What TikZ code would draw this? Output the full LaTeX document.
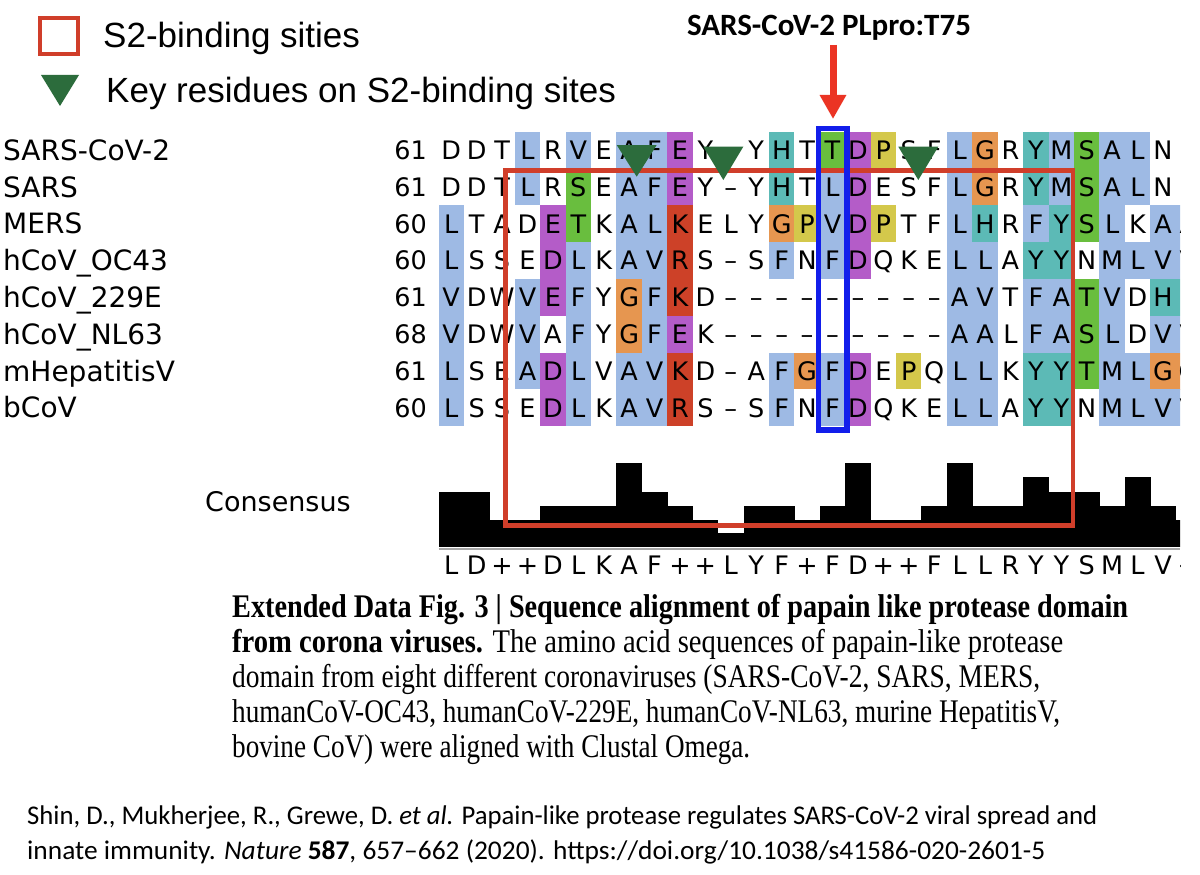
\documentclass[tikz,border=0pt]{standalone}
\usepackage{fontspec}
\usepackage{graphicx}
\setmainfont{Liberation Serif}
\newfontfamily\dvs{DejaVu Sans}
\newfontfamily\lib{Liberation Sans}
\newfontfamily\carl{Carlito}
\usetikzlibrary{arrows.meta}
\definecolor{shB}{RGB}{158,186,228}
\definecolor{shP}{RGB}{180,92,200}
\definecolor{shR}{RGB}{205,65,40}
\definecolor{shG}{RGB}{105,190,62}
\definecolor{shO}{RGB}{230,150,80}
\definecolor{shY}{RGB}{212,200,75}
\definecolor{shC}{RGB}{92,186,182}
\definecolor{shn}{RGB}{255,255,255}
\definecolor{boxred}{RGB}{208,62,42}
\definecolor{boxblue}{RGB}{18,30,235}
\definecolor{arrred}{RGB}{235,52,36}
\definecolor{trigreen}{RGB}{44,108,60}
\def\cw{25.42}
\def\xo{438.5}
\def\yo{131.7}
\def\rh{36.8}
\newcommand\seqrow[2]{%
  \foreach \ch/\cc [count=\c from 0] in {#2}{%
    \fill[sh\cc] ({\xo+\c*\cw},{\yo+#1*\rh}) rectangle ++({\cw+0.3},{\rh+0.3});
    \node[seqch] (s#1-\c) at ({\xo+(\c+0.5)*\cw},{\yo+(#1+0.5)*\rh+9.3}) {\ch};
  }}
\tikzset{
  seqch/.style={font={\dvs\fontsize{25.5pt}{25.5pt}\selectfont}, anchor=base, inner sep=0pt},
  numlab/.style={font={\dvs\fontsize{25.5pt}{25.5pt}\selectfont}, anchor=base east, inner sep=0pt},
  rowlab/.style={font={\dvs\fontsize{28pt}{28pt}\selectfont}, anchor=base west, inner sep=0pt},
  leglab/.style={font={\lib\fontsize{35pt}{35pt}\selectfont}, anchor=base west, inner sep=0pt},
  capline/.style={font={\fontsize{33pt}{33pt}\selectfont}, anchor=base west, inner sep=0pt},
  citeline/.style={font={\carl\fontsize{27pt}{27pt}\selectfont}, anchor=base west, inner sep=0pt},
  tri/.style={fill=trigreen},
}
\begin{document}
\begin{tikzpicture}[x=1pt,y=-1pt]
\useasboundingbox[fill=white] (0,0) rectangle (1200,875);

% legend
\draw[boxred, line width=4pt] (40,18) rectangle (78,54);
\node[leglab] (leg1) at (103,47.5) {S2-binding sities};
\fill[tri] (41,75) -- (79,75) -- (60,106) -- cycle;
\node[leglab] (leg2) at (106,102.5) {Key residues on S2-binding sites};

% title and arrow
\node[font={\carl\bfseries\fontsize{31pt}{31pt}\selectfont}, anchor=base, inner sep=0pt] (title) at (829,36) {SARS-CoV-2 PLpro:T75};
\coordinate (arrS) at (833,45);
\coordinate (arrE) at (833,119);
\draw[arrred, line width=7pt, -{Triangle[width=25pt,length=24pt]}] (arrS) -- (arrE);

% row labels
\node[rowlab] (n0) at (3,160.3) {SARS-CoV-2};
\node[rowlab] (n1) at (3,197.1) {SARS};
\node[rowlab] (n2) at (3,233.9) {MERS};
\node[rowlab] (n3) at (3,270.7) {hCoV\_OC43};
\node[rowlab] (n4) at (3,307.5) {hCoV\_229E};
\node[rowlab] (n5) at (3,344.3) {hCoV\_NL63};
\node[rowlab] (n6) at (3,381.1) {mHepatitisV};
\node[rowlab] (n7) at (3,417.9) {bCoV};

\node[numlab] (p0) at (427,159.4) {61};
\node[numlab] (p1) at (427,196.2) {61};
\node[numlab] (p2) at (427,233.0) {60};
\node[numlab] (p3) at (427,269.8) {60};
\node[numlab] (p4) at (427,306.6) {61};
\node[numlab] (p5) at (427,343.4) {68};
\node[numlab] (p6) at (427,380.2) {61};
\node[numlab] (p7) at (427,417.0) {60};

\begin{scope}
\clip (0,110) rectangle (1180,600);
\seqrow{0}{D/n,D/n,T/n,L/B,R/n,V/B,E/n,A/B,F/B,E/P,Y/n,–/n,Y/n,H/C,T/n,T/G,D/P,P/Y,S/n,F/n,L/B,G/O,R/n,Y/C,M/B,S/G,A/B,L/B,N/n,N/n}
\seqrow{1}{D/n,D/n,T/n,L/B,R/n,S/G,E/n,A/B,F/B,E/P,Y/n,–/n,Y/n,H/C,T/n,L/B,D/P,E/n,S/n,F/n,L/B,G/O,R/n,Y/C,M/B,S/G,A/B,L/B,N/n,H/n}
\seqrow{2}{L/B,T/n,A/n,D/n,E/P,T/G,K/n,A/B,L/B,K/R,E/n,L/n,Y/n,G/O,P/Y,V/B,D/P,P/Y,T/n,F/n,L/B,H/C,R/n,F/B,Y/C,S/G,L/B,K/n,A/B,A/B}
\seqrow{3}{L/B,S/n,S/n,E/n,D/P,L/B,K/n,A/B,V/B,R/R,S/n,–/n,S/n,F/B,N/n,F/B,D/P,Q/n,K/n,E/n,L/B,L/B,A/n,Y/C,Y/C,N/n,M/B,L/B,V/B,V/B}
\seqrow{4}{V/B,D/n,W/n,V/B,E/P,F/B,Y/n,G/O,F/B,K/R,D/n,–/n,–/n,–/n,–/n,–/n,–/n,–/n,–/n,–/n,A/B,V/B,T/n,F/B,A/B,T/G,V/B,D/n,H/C,H/C}
\seqrow{5}{V/B,D/n,W/n,V/B,A/n,F/B,Y/n,G/O,F/B,E/P,K/n,–/n,–/n,–/n,–/n,–/n,–/n,–/n,–/n,–/n,A/B,A/B,L/n,F/B,A/B,S/G,L/B,D/n,V/B,V/B}
\seqrow{6}{L/B,S/n,E/n,A/B,D/P,L/B,V/n,A/B,V/B,K/R,D/n,–/n,A/n,F/B,G/O,F/B,D/P,E/n,P/Y,Q/n,L/B,L/B,K/n,Y/C,Y/C,T/G,M/B,L/B,G/O,G/O}
\seqrow{7}{L/B,S/n,S/n,E/n,D/P,L/B,K/n,A/B,V/B,R/R,S/n,–/n,S/n,F/B,N/n,F/B,D/P,Q/n,K/n,E/n,L/B,L/B,A/n,Y/C,Y/C,N/n,M/B,L/B,V/B,V/B}

% consensus bars
\foreach \t [count=\c from 0] in {491.7,491.7,520,520,505.7,505.7,505.7,463.3,491.7,505.7,520,533.3,505.7,505.7,520,505.7,463.3,520,520,505.7,463.3,505.7,505.7,477.3,491.7,491.7,505.7,477.3,505.7,520}{%
  \fill[black] ({\xo+\c*\cw},\t) rectangle ({\xo+(\c+1)*\cw+0.3},546.7);
}
\draw[gray!70, line width=2pt] (\xo,548.5) -- (1180,548.5);
\foreach \ch [count=\c from 0] in {L,D,+,+,D,L,K,A,F,+,+,L,Y,F,+,F,D,+,+,F,L,L,R,Y,Y,S,M,L,V,+}{%
  \node[seqch] (c\c) at ({\xo+(\c+0.5)*\cw},574) {\ch};
}

% boxes
\draw[boxred, line width=4.5pt] (505.5,170.5) rectangle (1073,525.5);
\draw[boxblue, line width=5.5pt] (818.5,128.5) rectangle (847,430);
\end{scope}

% key residue triangles
\fill[tri] (616.7,145) -- (656.7,145) -- (636.7,176.7) -- cycle;
\fill[tri] (703.3,146.7) -- (743.3,146.7) -- (723.3,180) -- cycle;
\fill[tri] (898.3,146.7) -- (938.3,146.7) -- (918.3,180) -- cycle;

% consensus label
\node[font={\dvs\fontsize{27pt}{27pt}\selectfont}, anchor=base west, inner sep=0pt] (cons) at (205,511.5) {Consensus};

% caption
\node[capline] (cap1) at (232,617) {\resizebox{896pt}{\height}{\bfseries Extended Data Fig. 3 | Sequence alignment of papain like protease domain}};
\node[capline] (cap2) at (232,652) {\resizebox{831pt}{\height}{\textbf{from corona viruses.} The amino acid sequences of papain-like protease}};
\node[capline] (cap3) at (232,687) {\resizebox{808pt}{\height}{domain from eight different coronaviruses (SARS-CoV-2, SARS, MERS,}};
\node[capline] (cap4) at (232,722) {\resizebox{828pt}{\height}{humanCoV-OC43, humanCoV-229E, humanCoV-NL63, murine HepatitisV,}};
\node[capline] (cap5) at (232,757) {\resizebox{518pt}{\height}{bovine CoV) were aligned with Clustal Omega.}};

% citation
\node[citeline] (cit1) at (27,824) {\resizebox{1070pt}{\height}{Shin, D., Mukherjee, R., Grewe, D. \textit{et al.} Papain-like protease regulates SARS-CoV-2 viral spread and}};
\node[citeline] (cit2) at (27,859) {\resizebox{1018pt}{\height}{innate immunity. \textit{Nature} \textbf{587}, 657–662 (2020). https://doi.org/10.1038/s41586-020-2601-5}};
\end{tikzpicture}
\end{document}
